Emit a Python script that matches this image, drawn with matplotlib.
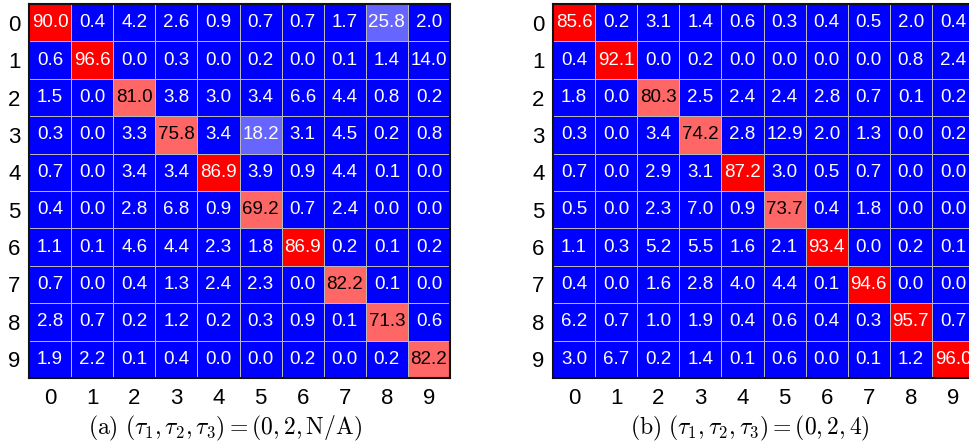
"""
Confusion matrices (%) for two (tau1, tau2, tau3) settings, side by side.
"""

import numpy as np
import matplotlib
matplotlib.use("Agg")
import matplotlib.pyplot as plt
from matplotlib.colors import ListedColormap, BoundaryNorm

plt.rcParams["font.family"] = ["Liberation Sans", "DejaVu Sans"]
plt.rcParams["mathtext.fontset"] = "cm"

# ── Data ──────────────────────────────────────────────────────────────────────

classes = list(range(10))

conf_a = [
    [90.0, 0.4, 4.2, 2.6, 0.9, 0.7, 0.7, 1.7, 25.8, 2.0],
    [0.6, 96.6, 0.0, 0.3, 0.0, 0.2, 0.0, 0.1, 1.4, 14.0],
    [1.5, 0.0, 81.0, 3.8, 3.0, 3.4, 6.6, 4.4, 0.8, 0.2],
    [0.3, 0.0, 3.3, 75.8, 3.4, 18.2, 3.1, 4.5, 0.2, 0.8],
    [0.7, 0.0, 3.4, 3.4, 86.9, 3.9, 0.9, 4.4, 0.1, 0.0],
    [0.4, 0.0, 2.8, 6.8, 0.9, 69.2, 0.7, 2.4, 0.0, 0.0],
    [1.1, 0.1, 4.6, 4.4, 2.3, 1.8, 86.9, 0.2, 0.1, 0.2],
    [0.7, 0.0, 0.4, 1.3, 2.4, 2.3, 0.0, 82.2, 0.1, 0.0],
    [2.8, 0.7, 0.2, 1.2, 0.2, 0.3, 0.9, 0.1, 71.3, 0.6],
    [1.9, 2.2, 0.1, 0.4, 0.0, 0.0, 0.2, 0.0, 0.2, 82.2],
]

conf_b = [
    [85.6, 0.2, 3.1, 1.4, 0.6, 0.3, 0.4, 0.5, 2.0, 0.4],
    [0.4, 92.1, 0.0, 0.2, 0.0, 0.0, 0.0, 0.0, 0.8, 2.4],
    [1.8, 0.0, 80.3, 2.5, 2.4, 2.4, 2.8, 0.7, 0.1, 0.2],
    [0.3, 0.0, 3.4, 74.2, 2.8, 12.9, 2.0, 1.3, 0.0, 0.2],
    [0.7, 0.0, 2.9, 3.1, 87.2, 3.0, 0.5, 0.7, 0.0, 0.0],
    [0.5, 0.0, 2.3, 7.0, 0.9, 73.7, 0.4, 1.8, 0.0, 0.0],
    [1.1, 0.3, 5.2, 5.5, 1.6, 2.1, 93.4, 0.0, 0.2, 0.1],
    [0.4, 0.0, 1.6, 2.8, 4.0, 4.4, 0.1, 94.6, 0.0, 0.0],
    [6.2, 0.7, 1.0, 1.9, 0.4, 0.6, 0.4, 0.3, 95.7, 0.7],
    [3.0, 6.7, 0.2, 1.4, 0.1, 0.6, 0.0, 0.1, 1.2, 96.0],
]

captions = [
    r"$\mathrm{(a)}\ (\tau_1, \tau_2, \tau_3) = (0, 2, \mathrm{N/A})$",
    r"$\mathrm{(b)}\ (\tau_1, \tau_2, \tau_3) = (0, 2, 4)$",
]

# ── Discrete 4-level colour map ───────────────────────────────────────────────

LEVELS = [0, 15, 50, 85, 100]
COLORS = ["#0000ff", "#6666ff", "#ff6666", "#ff0000"]
cmap = ListedColormap(COLORS)
norm = BoundaryNorm(LEVELS, cmap.N)

# ── Plot ──────────────────────────────────────────────────────────────────────

fig = plt.figure(figsize=(9.69, 4.45), dpi=100)
ax_a = fig.add_axes([29 / 969, 1 - 378 / 445, 421 / 969, 374 / 445])
ax_b = fig.add_axes([553 / 969, 1 - 378 / 445, 421 / 969, 374 / 445])

for ax, mat, cap in zip((ax_a, ax_b), (conf_a, conf_b), captions):
    m = np.array(mat)
    ax.pcolormesh(np.arange(11) - 0.5, np.arange(11) - 0.5, m,
                  cmap=cmap, norm=norm, edgecolors="#b8b8b8", linewidth=0.7)
    ax.set_xlim(-0.5, 9.5)
    ax.set_ylim(9.5, -0.5)

    for i in range(10):
        for j in range(10):
            v = m[i, j]
            tc = "black" if 50 <= v < 85 else "white"
            ax.text(j, i, f"{v:.1f}", ha="center", va="center",
                    fontsize=13.5, color=tc)

    ax.set_xticks(classes)
    ax.set_yticks(classes)
    ax.set_xticklabels([str(c) for c in classes])
    ax.set_yticklabels([str(c) for c in classes])
    ax.tick_params(axis="both", length=0, labelsize=16)
    ax.tick_params(axis="x", pad=7)
    ax.tick_params(axis="y", pad=6)
    for s in ax.spines.values():
        s.set_linewidth(1.5)
        s.set_color("#111111")

# captions under each panel (figure coordinates)
fig.text(225 / 969, 1 - 428 / 445, captions[0], ha="center", va="center",
         fontsize=17)
fig.text(750 / 969, 1 - 428 / 445, captions[1], ha="center", va="center",
         fontsize=17)

fig.savefig("out.png", dpi=100)
